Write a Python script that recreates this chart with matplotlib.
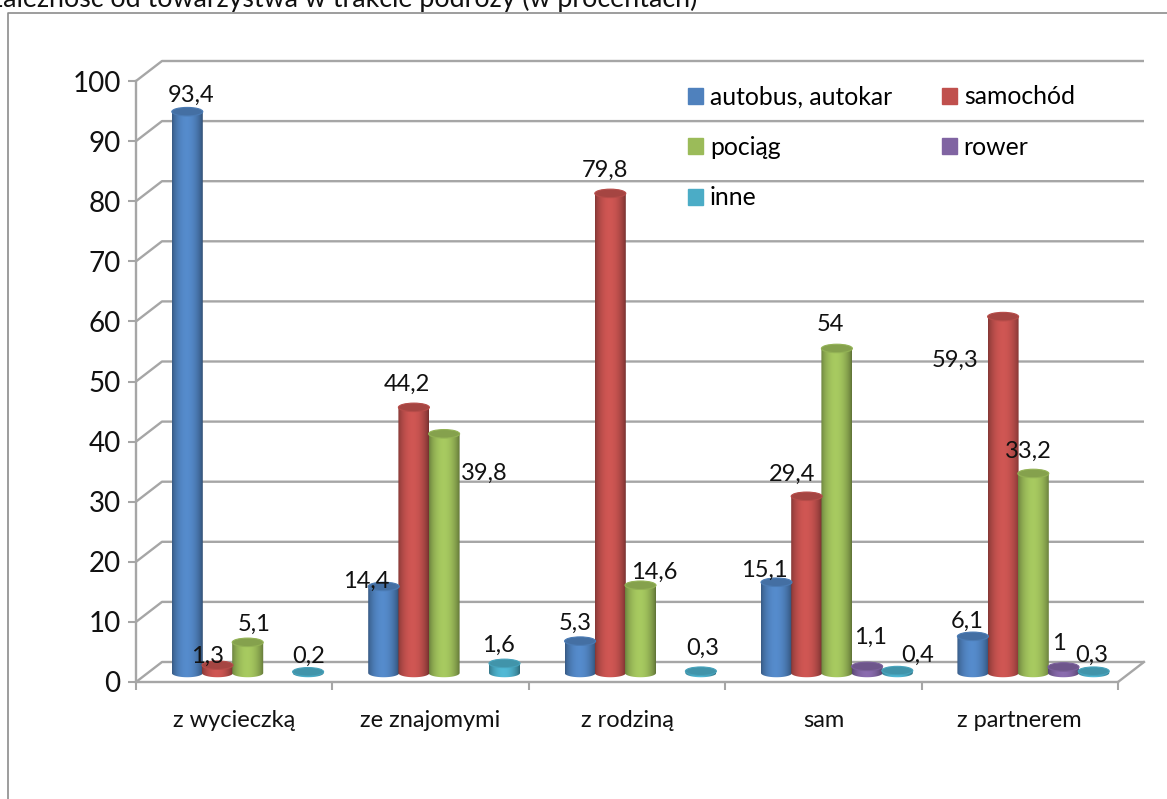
import numpy as np
import matplotlib
matplotlib.use("Agg")
import matplotlib.pyplot as plt
from matplotlib.patches import Ellipse, PathPatch, Patch
from matplotlib.path import Path
from matplotlib.colors import to_rgb

categories = ["z wycieczką", "ze znajomymi", "z rodziną", "sam", "z partnerem"]
series_names = ["autobus, autokar", "samochód", "pociąg", "rower", "inne"]
autobus = [93.4, 14.4, 5.3, 15.1, 6.1]
samochod = [1.3, 44.2, 79.8, 29.4, 59.3]
pociag = [5.1, 39.8, 14.6, 54, 33.2]
rower = [0, 0, 0, 1.1, 1]
inne = [0.2, 1.6, 0.3, 0.4, 0.3]
y_ticks = [0, 10, 20, 30, 40, 50, 60, 70, 80, 90, 100]
title = "Zależność od towarzystwa w trakcie podróży (w procentach)"

colors = ["#4F81BD", "#C0504D", "#9BBB59", "#8064A2", "#4BACC6"]

# where the value labels sit in the picture (pixels), per series and category
label_pos = [
    [(191, 95), (366, 581), (575, 623), (764, 570), (967, 621)],
    [(208, 656), (407, 384), (605, 170), (792, 474), (955, 360)],
    [(254, 624), (484, 473), (654, 572), (830, 324), (1028, 451)],
    [None, None, None, (870, 637), (1059, 644)],
    [(309, 656), (498, 645), (703, 648), (918, 655), (1092, 655)],
]

W, H = 1167, 799
plt.rcParams["font.family"] = ["Lato", "DejaVu Sans"]
fig = plt.figure(figsize=(W / 100, H / 100), dpi=100)
ax = fig.add_axes([136 / W, 1 - 682 / H, 982 / W, 601 / H])
ax.patch.set_alpha(0)

grey = "#a6a6a6"
depth_x, depth_y = 26 / 196.4, 20 / 6.01
bar_dx, bar_dy = 13.5 / 196.4, 9 / 6.01
bar_w, step = 31 / 196.4, 30.2 / 196.4
ell_h = 8.5 / 6.01

# floor and back wall
for v in y_ticks:
    ax.plot([0, depth_x, 5 + depth_x], [v, v + depth_y, v + depth_y], color=grey, lw=1.7,
            clip_on=False, zorder=1, solid_capstyle="butt")
ax.plot([5, 5 + depth_x], [0, depth_y], color=grey, lw=1.7, clip_on=False, zorder=1)


def shade(col, n=64):
    base = np.array(to_rgb(col))
    t = np.linspace(0, 1, n)
    k = 0.68 + 0.44 * np.sin(np.pi * t) ** 0.7
    k = k - 0.08 * t
    return np.clip(base[None, None, :] * k[None, :, None], 0, 1)


def cylinder(x, v, col, z):
    y0 = bar_dy
    top = v + bar_dy
    t = np.linspace(np.pi, 2 * np.pi, 40)
    lx = x + bar_w / 2 * np.cos(t)
    ly = y0 + ell_h / 2 * np.sin(t)
    verts = [(x - bar_w / 2, top)] + list(zip(lx, ly)) + [(x + bar_w / 2, top), (x - bar_w / 2, top)]
    clip = PathPatch(Path(verts), fc="none", ec="none", transform=ax.transData, clip_on=False)
    ax.add_patch(clip)
    im = ax.imshow(shade(col), extent=(x - bar_w / 2, x + bar_w / 2, y0 - ell_h, top),
                   aspect="auto", zorder=z, interpolation="bilinear")
    im.set_clip_path(clip)
    cap = tuple(c * 0.86 for c in to_rgb(col))
    ax.add_patch(Ellipse((x, top), bar_w, ell_h, fc=cap, ec=tuple(c * 0.95 for c in to_rgb(col)),
                         lw=0.8, zorder=z + 0.5, clip_on=False))


all_series = [autobus, samochod, pociag, rower, inne]
for s, values in enumerate(all_series):
    for c, v in enumerate(values):
        if v == 0:
            continue
        x = c + 0.5 + bar_dx + (s - 2) * step
        cylinder(x, v, colors[s], 3 + s * 0.1)
        px = label_pos[s][c]
        fig.text(px[0] / W, 1 - px[1] / H, str(v).replace(".", ","), fontsize=17,
                 ha="center", va="center", color="#111111", zorder=10)

ax.set_xlim(0, 5)
ax.set_ylim(0, 100)
ax.set_yticks(y_ticks)
ax.set_xticks(range(6))
ax.set_xticklabels([])
ax.set_xticks([i + 0.5 for i in range(5)], categories, minor=True)
ax.tick_params(axis="y", length=6, width=1.5, color=grey, labelsize=20, pad=5, labelcolor="#111111")
ax.tick_params(axis="x", which="major", length=6, width=1.5, color=grey)
ax.tick_params(axis="x", which="minor", length=0, labelsize=17, pad=20, labelcolor="#111111")
for side in ["top", "right"]:
    ax.spines[side].set_visible(False)
for side in ["left", "bottom"]:
    ax.spines[side].set_color(grey)
    ax.spines[side].set_linewidth(1.7)

handles = [Patch(color=colors[i], label=series_names[i]) for i in [0, 2, 4, 1, 3]]
leg = fig.legend(handles=handles, ncol=2, frameon=False, fontsize=17.8,
                 loc="upper left", bbox_to_anchor=(680.6 / W, 1 - 78 / H),
                 handlelength=0.61, handleheight=0.61, handletextpad=0.28,
                 labelspacing=1.11, columnspacing=2.0, borderpad=0.3, borderaxespad=0)
leg.set_zorder(11)

# outer chart frame, cut off by the picture edge
fig.add_artist(plt.Line2D([8 / W, 8 / W, 1], [0, 1 - 13 / H, 1 - 13 / H], color="#8c8c8c", lw=1.2))
fig.text(-13 / W, 1 - 7.5 / H, title, fontsize=19.3, ha="left", va="baseline", color="#111111")

fig.savefig("out.png", dpi=100)
